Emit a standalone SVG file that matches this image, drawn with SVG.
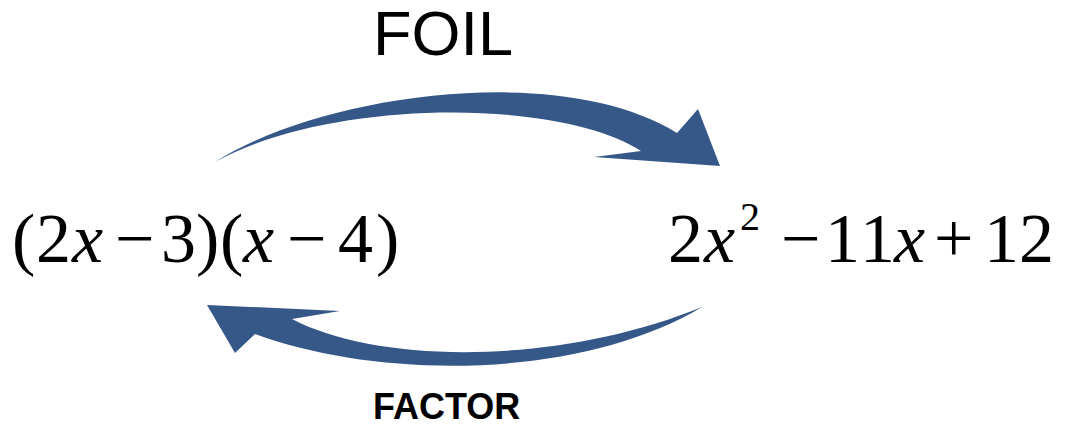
<svg xmlns="http://www.w3.org/2000/svg" width="1069" height="425" viewBox="0 0 1069 425">
<style>
.m{font-family:"Liberation Serif","Times New Roman",serif;font-size:70px;fill:#000}
.i{font-style:italic}
.arrow{fill:#365889}
.lbl{font-family:"Liberation Sans",Arial,sans-serif;fill:#000}
</style>
<rect width="1069" height="425" fill="#fff"/>
<g id="connectors">
<path id="foil-arrow" class="arrow" d="M215,162 C320,95 560,60 677,133 L698,109 L720,166 L594,157 L641,151 C560,98 330,98 215,162 Z"/>
<path id="factor-arrow" class="arrow" d="M207,305 L340,311 L292,319 C380,365 560,365 702,307 C580,380 380,380 255,334 L235,353 Z"/>
</g>
<g id="node-factored">
<text class="m" y="262"><tspan x="12">(</tspan><tspan x="36">2</tspan><tspan x="72" class="i">x</tspan><tspan x="115">−</tspan><tspan x="161">3</tspan><tspan x="196">)</tspan><tspan x="220">(</tspan><tspan x="243" class="i">x</tspan><tspan x="287">−</tspan><tspan x="338">4</tspan><tspan x="376">)</tspan></text>
</g>
<g id="node-expanded">
<text class="m" y="262"><tspan x="668">2</tspan><tspan x="704" class="i">x</tspan><tspan x="781">−</tspan><tspan x="825">1</tspan><tspan x="860">1</tspan><tspan x="894" class="i">x</tspan><tspan x="934">+</tspan><tspan x="984">1</tspan><tspan x="1019">2</tspan></text>
<text class="m" x="740" y="230" style="font-size:40px">2</text>
</g>
<g id="label-foil">
<text class="lbl" x="373" y="55" style="font-size:63px">FOIL</text>
</g>
<g id="label-factor">
<text class="lbl" x="373" y="419" style="font-size:36px;font-weight:bold">FACTOR</text>
</g>
</svg>
